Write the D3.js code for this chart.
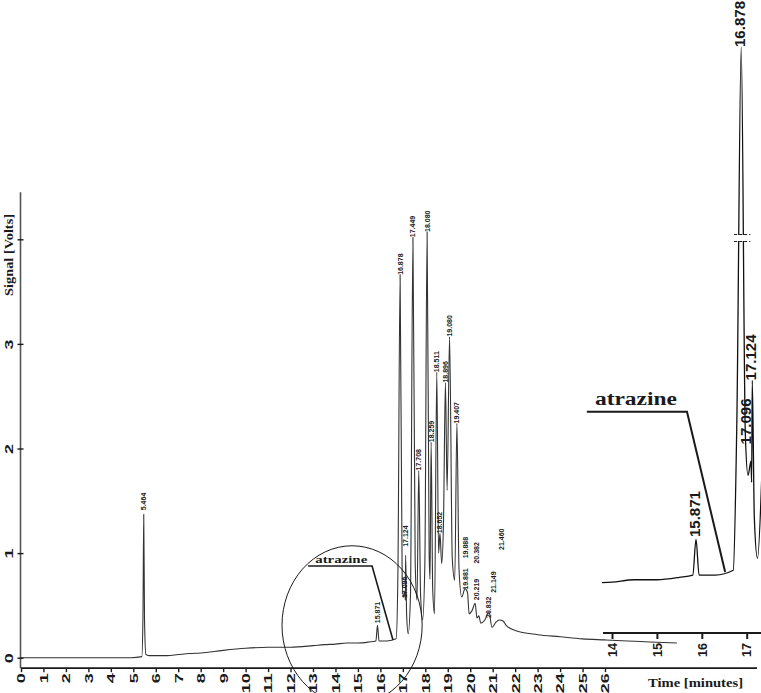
<!DOCTYPE html>
<html><head><meta charset="utf-8">
<script src="https://cdn.jsdelivr.net/npm/d3@7"></script>
<style>body{margin:0;background:#fff}svg{display:block}</style>
</head><body>
<svg id="c" width="761" height="693"></svg>
<script>
// ---------- data ----------
const traceTimes = [0, 4.9, 5.38, 5.43, 5.464, 5.5, 5.56, 5.7, 6.5, 7.0, 7.5, 8.0, 9.0, 10.0, 11.0, 12.0, 13.0, 13.5, 14.0, 14.5, 15.0, 15.5, 15.8, 15.871, 15.94, 16.3, 16.7, 16.78, 16.878, 16.97, 17.03, 17.096, 17.11, 17.124, 17.17, 17.24, 17.34, 17.449, 17.55, 17.63, 17.708, 17.79, 17.88, 17.98, 18.080, 18.17, 18.21, 18.259, 18.33, 18.41, 18.511, 18.59, 18.652, 18.73, 18.81, 18.896, 18.97, 19.080, 19.2, 19.31, 19.407, 19.5, 19.62, 19.77, 19.881, 19.95, 20.08, 20.219, 20.3, 20.382, 20.47, 20.65, 20.832, 20.97, 21.149, 21.3, 21.460, 21.6, 22.0, 23.0, 24.0, 25.0, 26.0, 27.0, 28.0, 29.2];
const traceVolts = [0, 0, 0.01, 0.4, 1.37, 0.35, 0.03, 0.02, 0.02, 0.03, 0.04, 0.045, 0.07, 0.09, 0.1, 0.1, 0.115, 0.125, 0.13, 0.14, 0.14, 0.15, 0.16, 0.31, 0.16, 0.16, 0.18, 0.8, 3.66, 0.75, 0.58, 0.64, 0.55, 0.98, 0.4, 0.23, 0.6, 4.02, 0.9, 0.55, 1.79, 0.6, 0.36, 0.9, 4.07, 1.0, 0.75, 2.06, 0.65, 0.42, 2.73, 1.0, 1.19, 0.9, 1.3, 2.63, 1.6, 3.07, 0.95, 0.74, 2.24, 0.85, 0.58, 0.66, 0.62, 0.42, 0.45, 0.52, 0.38, 0.4, 0.33, 0.36, 0.44, 0.29, 0.34, 0.36, 0.35, 0.31, 0.26, 0.22, 0.2, 0.18, 0.17, 0.16, 0.15, 0.14];

const peakTimes  = [5.464, 15.871, 16.878, 17.124, 17.096, 17.449, 17.708, 18.080, 18.259, 18.511, 18.652, 18.896, 19.080, 19.407, 19.77, 19.77, 20.3, 20.3, 20.832, 21.05, 21.4];
const peakLabels = ["5.464", "15.871", "16.878", "17.124", "17.096", "17.449", "17.708", "18.080", "18.259", "18.511", "18.652", "18.896", "19.080", "19.407", "19.888", "19.881", "20.382", "20.219", "20.832", "21.149", "21.460"];
const peakLabelVolts = [1.41, 0.33, 3.66, 1.06, 0.57, 4.02, 1.79, 4.07, 2.06, 2.73, 1.19, 2.63, 3.07, 2.24, 0.95, 0.65, 0.9, 0.55, 0.38, 0.62, 1.03];

const xTickValues = [0,1,2,3,4,5,6,7,8,9,10,11,12,13,14,15,16,17,18,19,20,21,22,23,24,25,26];
const xTickLabels = ["0","1","2","3","4","5","6","7","8","9","10","11","12","13","14","15","16","17","18","19","20","21","22","23","24","25","26"];
const yTickValues = [0,1,2,3,4];
const yTickLabels = ["0","1","2","3",""];

const insetTickValues = [14,15,16,17];
const insetTickLabels = ["14","15","16","17"];
const insetPeakTimes  = [15.871, 16.878, 17.0, 17.124];
const insetPeakLabels = ["15.871", "16.878", "17.096", "17.124"];
const insetPeakLabelVolts = [0.32, 3.66, 0.71, 0.98];

// ---------- scales ----------
const svg = d3.select("#c");
const x = d3.scaleLinear().domain([0, 26]).range([21, 605]);
const y = d3.scaleLinear().domain([0, 4]).range([657.7, 239.3]);
const xi = d3.scaleLinear().domain([14, 17]).range([612, 746.7]);
const yi = d3.scaleLinear().domain([0, 1.58, 3.66]).range([613, 238, 47]);

const pts = traceTimes.map((t, i) => [t, traceVolts[i]]);
const ink = "#1a1a1a";

// ---------- main axes ----------
svg.append("line").attr("x1", x(0) - 0.5).attr("x2", x(0) - 0.5)
  .attr("y1", y(4.45)).attr("y2", y(-0.1)).attr("stroke", "#555").attr("stroke-width", 1.6);
const xAxis = svg.append("g").attr("transform", `translate(0,${y(-0.1)})`)
  .call(d3.axisBottom(x).tickValues(xTickValues).tickSize(4).tickFormat((d, i) => xTickLabels[i]));
xAxis.select(".domain").remove();
xAxis.append("line").attr("x1", x(0)).attr("x2", 757).attr("stroke", ink).attr("stroke-width", 1.6);
xAxis.selectAll(".tick line").attr("stroke", ink).attr("stroke-width", 1.4);
xAxis.selectAll(".tick text")
  .attr("y", 0).attr("dy", "0.35em")
  .attr("transform", "translate(0,5) rotate(-90)")
  .attr("text-anchor", "end")
  .attr("textLength", (d, i) => 10 * xTickLabels[i].length)
  .attr("lengthAdjust", "spacingAndGlyphs")
  .style("font", "bold 11px 'Liberation Sans', Arial, sans-serif").attr("fill", ink);

const yAxis = svg.append("g").attr("transform", `translate(${x(0) - 0.5},0)`)
  .call(d3.axisLeft(y).tickValues(yTickValues).tickSize(3).tickFormat((d, i) => yTickLabels[i]));
yAxis.select(".domain").remove();
yAxis.selectAll(".tick line").attr("x2", 3).attr("x1", -3).attr("stroke", ink).attr("stroke-width", 1.4);
yAxis.selectAll(".tick text")
  .attr("x", 0).attr("dy", "0.35em")
  .attr("transform", "translate(-11,0) rotate(-90)")
  .attr("text-anchor", "middle")
  .attr("textLength", 10).attr("lengthAdjust", "spacingAndGlyphs")
  .style("font", "bold 11px 'Liberation Sans', Arial, sans-serif").attr("fill", ink);

svg.append("text").text("Signal [Volts]")
  .attr("transform", `translate(13,${y(3.85)}) rotate(-90)`)
  .attr("text-anchor", "middle")
  .attr("textLength", 82).attr("lengthAdjust", "spacingAndGlyphs")
  .style("font", "bold 12px 'Liberation Serif', 'Times New Roman', serif").attr("fill", ink);
svg.append("text").text("Time [minutes]")
  .attr("x", 648).attr("y", 687)
  .attr("textLength", 95).attr("lengthAdjust", "spacingAndGlyphs")
  .style("font", "bold 13px 'Liberation Serif', 'Times New Roman', serif").attr("fill", ink);

// ---------- main trace ----------
const line = d3.line().x(d => x(d[0])).y(d => y(d[1])).curve(d3.curveMonotoneX);
svg.append("path").datum(pts).attr("d", line)
  .attr("fill", "none").attr("stroke", "#333").attr("stroke-width", 1.1);

svg.append("g").selectAll("text").data(peakTimes).join("text")
  .text((d, i) => peakLabels[i])
  .attr("transform", (d, i) => `translate(${x(d)},${y(peakLabelVolts[i])}) rotate(-90)`)
  .attr("dy", "0.35em")
  .style("font", "bold 7px 'Liberation Sans', Arial, sans-serif").attr("fill", ink);

// ---------- main annotation (ellipse + atrazine) ----------
const ellC = [14.74, 0.31], ellR = [3.12, 0.76];
svg.append("ellipse").attr("cx", x(ellC[0])).attr("cy", y(ellC[1]))
  .attr("rx", x(ellR[0]) - x(0)).attr("ry", y(0) - y(ellR[1]))
  .attr("fill", "none").attr("stroke", ink).attr("stroke-width", 1);
svg.append("text").text("atrazine").attr("x", x(13.1)).attr("y", y(0.905))
  .attr("textLength", 52).attr("lengthAdjust", "spacingAndGlyphs")
  .style("font", "bold 11px 'Liberation Serif', 'Times New Roman', serif").attr("fill", ink);
svg.append("polyline")
  .attr("points", [[x(12.78), y(0.876)], [x(15.63), y(0.876)], [x(16.56), y(0.17)]].join(" "))
  .attr("fill", "none").attr("stroke", ink).attr("stroke-width", 1.6);

// ---------- inset ----------
const inset = svg.append("g");
inset.append("clipPath").attr("id", "ic").append("rect")
  .attr("x", 602).attr("y", 0).attr("width", 159).attr("height", 630);
const insetPts = pts.filter(d => d[0] >= 13.0 && d[0] <= 17.4);
const lineI = d3.line().x(d => xi(d[0])).y(d => yi(d[1])).curve(d3.curveMonotoneX);
inset.append("path").datum(insetPts).attr("d", lineI).attr("clip-path", "url(#ic)")
  .attr("fill", "none").attr("stroke", "#111").attr("stroke-width", 1.3);

// axis break marks
const brkY = yi(1.58);
inset.append("rect").attr("x", xi(16.72)).attr("y", brkY - 3).attr("width", xi(17.08) - xi(16.72)).attr("height", 6).attr("fill", "#fff");
[brkY - 3.5, brkY + 3.5].forEach(yy => inset.append("line")
  .attr("x1", xi(16.72)).attr("x2", xi(17.08)).attr("y1", yy).attr("y2", yy)
  .attr("stroke", ink).attr("stroke-width", 1).attr("stroke-dasharray", "3,2"));

const iAxis = inset.append("g").attr("transform", "translate(0,633)")
  .call(d3.axisBottom(xi).tickValues(insetTickValues).tickSize(6).tickFormat((d, i) => insetTickLabels[i]));
iAxis.select(".domain").remove();
iAxis.append("line").attr("x1", 603).attr("x2", 761).attr("stroke", ink).attr("stroke-width", 2);
iAxis.selectAll(".tick line").attr("stroke", ink).attr("stroke-width", 2);
iAxis.selectAll(".tick text")
  .attr("y", 0).attr("dy", "0.35em")
  .attr("transform", "translate(0,10) rotate(-90)")
  .attr("text-anchor", "end")
  .attr("textLength", 14).attr("lengthAdjust", "spacingAndGlyphs")
  .style("font", "bold 12px 'Liberation Sans', Arial, sans-serif").attr("fill", ink);

inset.append("g").selectAll("text").data(insetPeakTimes).join("text")
  .text((d, i) => insetPeakLabels[i])
  .attr("transform", (d, i) => `translate(${xi(d) - 1},${yi(insetPeakLabelVolts[i])}) rotate(-90)`)
  .attr("dy", "0.35em")
  .attr("textLength", 46).attr("lengthAdjust", "spacingAndGlyphs")
  .style("font", "bold 14px 'Liberation Sans', Arial, sans-serif").attr("fill", ink);

inset.append("text").text("atrazine").attr("x", xi(13.62)).attr("y", yi(0.878))
  .attr("textLength", 82).attr("lengthAdjust", "spacingAndGlyphs")
  .style("font", "bold 18px 'Liberation Serif', 'Times New Roman', serif").attr("fill", ink);
inset.append("polyline")
  .attr("points", [[xi(13.44), yi(0.848)], [xi(15.67), yi(0.848)], [xi(16.52), yi(0.173)]].join(" "))
  .attr("fill", "none").attr("stroke", ink).attr("stroke-width", 2);
</script>
</body></html>
